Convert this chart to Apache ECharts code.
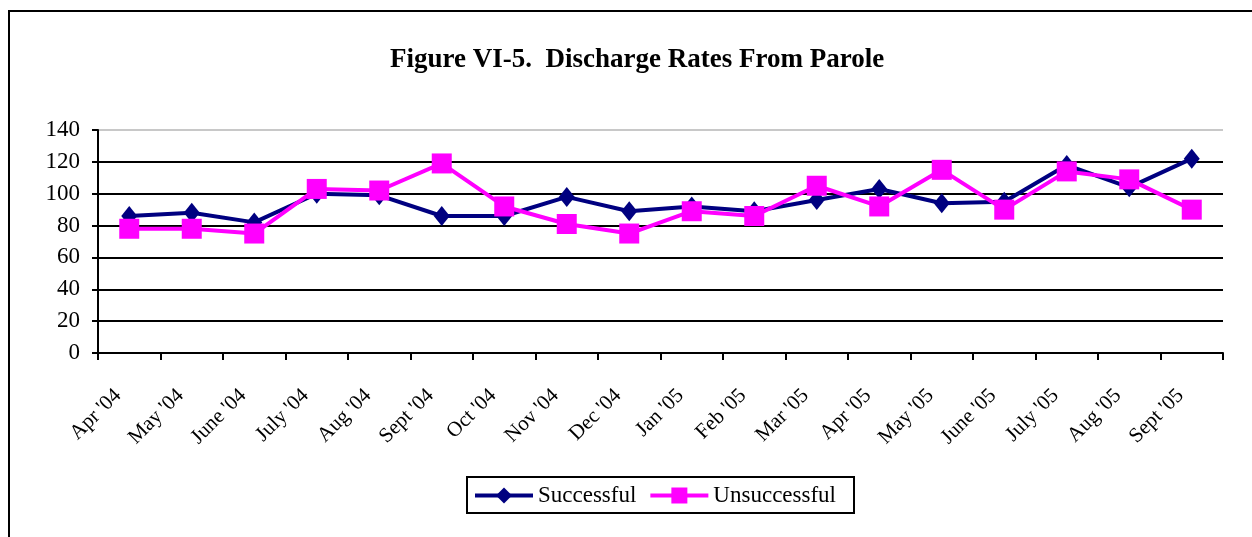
<!DOCTYPE html>
<html>
<head>
<meta charset="utf-8">
<script src="https://cdn.jsdelivr.net/npm/echarts@6/dist/echarts.min.js"></script>
<style>
  html, body { margin: 0; padding: 0; background: #fff; }
  #chart { width: 1252px; height: 537px; }
</style>
</head>
<body>
<div id="chart"></div>
<script>
// months on the x axis
const months = ["Apr '04", "May '04", "June '04", "July '04", "Aug '04", "Sept '04", "Oct '04", "Nov '04", "Dec '04",
    "Jan '05", "Feb '05", "Mar '05", "Apr '05", "May '05", "June '05", "July '05", "Aug '05", "Sept '05"];

// discharge rates
const successful = [86, 88, 82, 100, 99, 86, 86, 98, 89, 92, 89, 96, 103, 94, 95, 118, 104, 122];
const unsuccessful = [78, 78, 75, 103, 102, 119, 92, 81, 75, 89, 86, 105, 92, 115, 90, 114, 109, 90];

const yTicks = { min: 0, max: 140, step: 20 };

const font = 'Liberation Serif, Times New Roman, serif';

const chart = echarts.init(document.getElementById('chart'));

const option = {
    animation: false,
    backgroundColor: '#fff',
    title: {
        text: 'Figure VI-5.  Discharge Rates From Parole',
        left: 385,
        top: 42,
        textStyle: { fontFamily: font, fontSize: 27, fontWeight: 'bold', color: '#000' }
    },
    legend: {
        top: 477,
        left: 467,
        itemWidth: 58,
        itemHeight: 20,
        itemGap: 12,
        padding: [7, 18, 6, 6],
        borderColor: '#000',
        borderWidth: 2,
        lineStyle: { width: 4 },
        textStyle: { fontFamily: font, fontSize: 23, color: '#000' },
        data: ['Successful', 'Unsuccessful']
    },
    grid: { left: 98, right: 29, top: 130, bottom: 184, containLabel: false },
    xAxis: {
        type: 'category',
        data: months,
        boundaryGap: true,
        axisLine: { lineStyle: { color: '#000', width: 2 } },
        axisTick: { show: true, length: 7, lineStyle: { color: '#000', width: 2 } },
        axisLabel: {
            interval: 0,
            rotate: 45,
            margin: 28,
            padding: [0, 16, 0, 0],
            fontFamily: font,
            fontSize: 21,
            color: '#000'
        }
    },
    yAxis: {
        type: 'value',
        min: yTicks.min,
        max: yTicks.max,
        interval: yTicks.step,
        axisLine: { show: true, lineStyle: { color: '#000', width: 2 } },
        axisTick: { show: true, length: 6, lineStyle: { color: '#000', width: 2 } },
        axisLabel: { margin: 18, fontFamily: font, fontSize: 23, color: '#000' },
        splitLine: {
            show: true,
            lineStyle: {
                color: ['#000', '#000', '#000', '#000', '#000', '#000', '#000', '#c8c8c8'],
                width: 2
            }
        }
    },
    series: [
        {
            name: 'Successful',
            type: 'line',
            data: successful,
            symbol: 'diamond',
            symbolSize: [16, 20],
            lineStyle: { color: '#000080', width: 4 },
            itemStyle: { color: '#000080' },
            z: 2
        },
        {
            name: 'Unsuccessful',
            type: 'line',
            data: unsuccessful,
            symbol: 'rect',
            symbolSize: 20,
            lineStyle: { color: '#ff00ff', width: 4 },
            itemStyle: { color: '#ff00ff' },
            z: 3
        }
    ],
    graphic: [
        {
            type: 'polyline',
            shape: { points: [[9, 537], [9, 11], [1252, 11]] },
            style: { stroke: '#000', lineWidth: 2, fill: null },
            silent: true
        }
    ]
};

chart.setOption(option);
</script>
</body>
</html>
